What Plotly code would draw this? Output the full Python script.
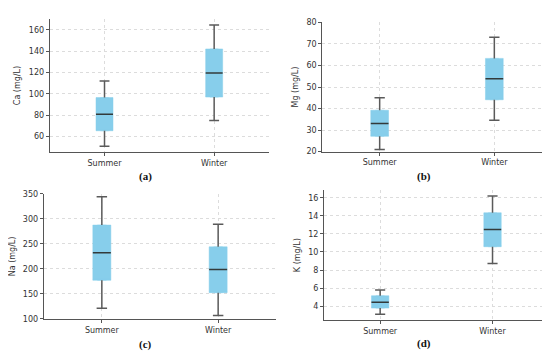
import plotly.graph_objects as go

seasons = ["Summer", "Winter"]
positions = [1, 2]

# five-number summaries per ion: [low whisker, Q1, median, Q3, high whisker]
ca_summer = [51, 65.5, 81, 96.5, 112]
ca_winter = [75, 97, 119.5, 142, 164.5]
mg_summer = [21, 27.1, 33.1, 39.2, 45.0]
mg_winter = [34.6, 44.1, 53.9, 63.3, 73.1]
na_summer = [121.4, 177.3, 232.5, 287.7, 344.2]
na_winter = [107.1, 152.6, 198.7, 244.2, 289.6]
k_summer = [3.09, 3.78, 4.43, 5.15, 5.8]
k_winter = [8.73, 10.58, 12.5, 14.34, 16.2]

panels = [
    ("Ca (mg/L)", [ca_summer, ca_winter], [45.3, 170.2], [60, 80, 100, 120, 140, 160], "(a)"),
    ("Mg (mg/L)", [mg_summer, mg_winter], [20, 80], [20, 30, 40, 50, 60, 70, 80], "(b)"),
    ("Na (mg/L)", [na_summer, na_winter], [100, 350], [100, 150, 200, 250, 300, 350], "(c)"),
    ("K (mg/L)", [k_summer, k_winter], [2.44, 16.86], [4, 6, 8, 10, 12, 14, 16], "(d)"),
]

domains = [
    ([0.0758, 0.4745], [0.5909, 0.9801]),
    ([0.5715, 0.9885], [0.5929, 0.9696]),
    ([0.0649, 0.4878], [0.1051, 0.4696]),
    ([0.5745, 0.9831], [0.1014, 0.4810]),
]
label_pos = [(137, 169), (416, 169), (137, 341), (416, 340)]

BOX_W = 0.155
CAP_W = 0.09
FILL = "#87CEEB"
WHISK = "#5a5a5a"
MED = "#333a3a"

fig = go.Figure()
layout = dict(
    width=550, height=352, margin=dict(l=0, r=0, t=0, b=0),
    paper_bgcolor="white", plot_bgcolor="white", showlegend=False,
    font=dict(family="DejaVu Sans", size=8, color="#333333"),
)
annotations = []
for i, (title, stats, yr, ticks, lab) in enumerate(panels):
    n = "" if i == 0 else str(i + 1)
    xa, ya = "x" + n, "y" + n
    for pos, s in zip(positions, stats):
        lo, q1, med, q3, hi = s
        fig.add_trace(go.Box(
            x=[pos], q1=[q1], median=[q1], q3=[q3], lowerfence=[q1], upperfence=[q3],
            width=BOX_W, fillcolor=FILL, line=dict(color=FILL, width=0.5),
            boxpoints=False, xaxis=xa, yaxis=ya, hoverinfo="skip"))
        # whiskers
        fig.add_trace(go.Scatter(x=[pos, pos, None, pos, pos], y=[lo, q1, None, q3, hi],
                                 mode="lines", line=dict(color=WHISK, width=1.5),
                                 xaxis=xa, yaxis=ya, hoverinfo="skip"))
        # caps
        fig.add_trace(go.Scatter(x=[pos - CAP_W / 2, pos + CAP_W / 2, None, pos - CAP_W / 2, pos + CAP_W / 2],
                                 y=[lo, lo, None, hi, hi],
                                 mode="lines", line=dict(color=WHISK, width=1.5),
                                 xaxis=xa, yaxis=ya, hoverinfo="skip"))
        # median
        fig.add_trace(go.Scatter(x=[pos - BOX_W / 2, pos + BOX_W / 2], y=[med, med],
                                 mode="lines", line=dict(color=MED, width=1.5),
                                 xaxis=xa, yaxis=ya, hoverinfo="skip"))
    xd, yd = domains[i]
    layout["xaxis" + n] = dict(
        domain=xd, anchor=ya, range=[0.5, 2.5], tickvals=positions, ticktext=seasons,
        showline=True, linecolor="#555555", linewidth=1, ticks="outside", ticklen=3,
        tickcolor="#555555", showgrid=True, gridcolor="#dcdcdc", griddash="dot",
        zeroline=False, tickfont=dict(size=8, color="#333333"), fixedrange=True)
    layout["yaxis" + n] = dict(
        domain=yd, anchor=xa, range=yr, tickvals=ticks,
        showline=True, linecolor="#555555", linewidth=1, ticks="outside", ticklen=3,
        tickcolor="#555555", showgrid=True, gridcolor="#dcdcdc", griddash="dot",
        zeroline=False, tickfont=dict(size=8, color="#333333"),
        title=dict(text=title, font=dict(size=8, color="#333333"), standoff=6))
    px, py = label_pos[i]
    annotations.append(dict(text="<b>" + lab + "</b>", x=px / 550, y=1 - py / 352,
                            xref="paper", yref="paper", showarrow=False,
                            xanchor="center", yanchor="middle",
                            font=dict(family="Liberation Serif", size=11, color="#111111")))
layout["annotations"] = annotations
fig.update_layout(**layout)
fig.write_html("out.html")
